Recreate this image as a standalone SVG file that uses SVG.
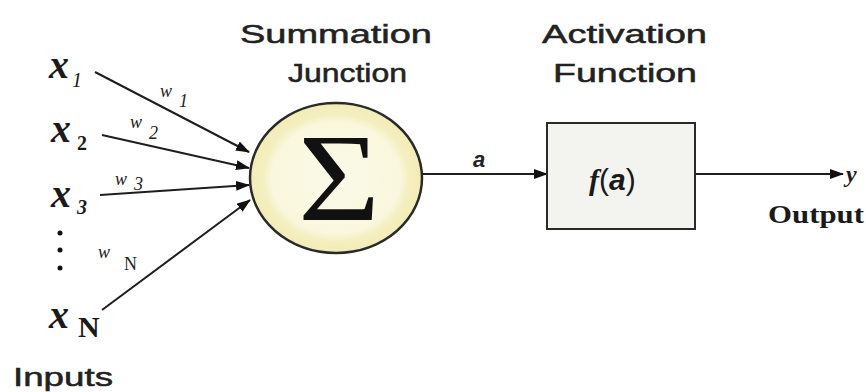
<svg xmlns="http://www.w3.org/2000/svg" width="866" height="392" viewBox="0 0 866 392">
<style>
.title{font-family:"Liberation Sans",Arial,sans-serif;font-size:25px;fill:#222;stroke:#222;stroke-width:0.5px;}
.xv{font-family:"Liberation Serif","Times New Roman",serif;font-style:italic;font-weight:bold;font-size:40px;fill:#1a1a1a;}
.sub{font-family:"Liberation Serif","Times New Roman",serif;font-size:20px;fill:#1a1a1a;}
.w{font-family:"Liberation Serif","Times New Roman",serif;font-style:italic;font-size:18px;fill:#222;}
.conn{stroke:#1e1e1e;stroke-width:2;fill:none;}
</style>
<defs>
<marker id="ah" markerUnits="userSpaceOnUse" markerWidth="14" markerHeight="10" refX="13" refY="5" orient="auto">
<path d="M0,0 L14,5 L0,10 Z" fill="#111"/>
</marker>
<radialGradient id="cg" cx="0.5" cy="0.5" r="0.5">
<stop offset="0" stop-color="#fbfae8"/>
<stop offset="0.75" stop-color="#f9f7dc"/>
<stop offset="0.85" stop-color="#f4efc0"/>
<stop offset="1" stop-color="#f2ecb6"/>
</radialGradient>
</defs>
<rect width="866" height="392" fill="#ffffff"/>

<g id="inputs">
<text class="xv" x="49" y="78">x</text><text class="sub" x="72" y="87" font-style="italic">1</text>
<text class="xv" x="51" y="142">x</text><text class="sub" x="77" y="150" font-weight="bold">2</text>
<text class="xv" x="51" y="207">x</text><text class="sub" x="77" y="214" font-weight="bold" font-style="italic">3</text>
<circle cx="60" cy="233" r="2.5" fill="#111"/>
<circle cx="60" cy="250" r="2.5" fill="#111"/>
<circle cx="60" cy="268" r="2.5" fill="#111"/>
<text class="xv" x="49" y="328">x</text><text x="78" y="337" font-family="Liberation Serif,serif" font-weight="bold" font-size="30" fill="#1a1a1a">N</text>
<text class="title" x="13" y="386" textLength="100" lengthAdjust="spacingAndGlyphs">Inputs</text>
</g>

<g id="weights">
<text class="w" x="160" y="97">w</text><text class="w" x="179" y="107" font-size="17">1</text>
<text class="w" x="130" y="128">w</text><text class="w" x="149" y="139" font-size="17">2</text>
<text class="w" x="115" y="185">w</text><text class="w" x="134" y="190" font-size="17">3</text>
<text class="w" x="98" y="258">w</text><text x="124" y="270" font-family="Liberation Serif,serif" font-size="18" fill="#222">N</text>
</g>

<g id="connectors">
<line class="conn" x1="95" y1="72" x2="249" y2="152" marker-end="url(#ah)"/>
<line class="conn" x1="102" y1="135" x2="249" y2="168" marker-end="url(#ah)"/>
<line class="conn" x1="100" y1="195" x2="249" y2="185" marker-end="url(#ah)"/>
<line class="conn" x1="102" y1="310" x2="250" y2="200" marker-end="url(#ah)"/>
<line class="conn" x1="422" y1="174" x2="547" y2="174" marker-end="url(#ah)"/>
<line class="conn" x1="696" y1="174" x2="843" y2="174" marker-end="url(#ah)"/>
</g>

<g id="summation">
<text class="title" x="240" y="43" textLength="192" lengthAdjust="spacingAndGlyphs">Summation</text>
<text class="title" x="288" y="82" textLength="119" lengthAdjust="spacingAndGlyphs">Junction</text>
<ellipse cx="336" cy="178" rx="86" ry="75" fill="url(#cg)" stroke="#2a2a2a" stroke-width="2.5"/>
<text transform="translate(339,220) scale(1.12,1)" text-anchor="middle" font-family="Liberation Serif,serif" font-size="126" fill="#111">Σ</text>
</g>

<g id="a-label">
<text x="473" y="167" font-family="Liberation Sans,Arial,sans-serif" font-weight="bold" font-style="italic" font-size="22" fill="#222">a</text>
</g>

<g id="activation">
<text class="title" x="542" y="43" textLength="165" lengthAdjust="spacingAndGlyphs">Activation</text>
<text class="title" x="553" y="82" textLength="144" lengthAdjust="spacingAndGlyphs">Function</text>
<rect x="547" y="123" width="148" height="106" fill="#f3f3f0" stroke="#2a2a2a" stroke-width="2"/>
<text x="589" y="190" font-size="30" fill="#1a1a1a"><tspan font-family="Liberation Serif,serif" font-style="italic" font-weight="bold">f</tspan><tspan font-family="Liberation Sans,Arial,sans-serif">(</tspan><tspan font-family="Liberation Sans,Arial,sans-serif" font-weight="bold" font-style="italic">a</tspan><tspan font-family="Liberation Sans,Arial,sans-serif">)</tspan></text>
</g>

<g id="output">
<text x="846" y="182" font-family="Liberation Serif,serif" font-style="italic" font-weight="bold" font-size="24" fill="#1a1a1a">y</text>
<text x="768" y="223" font-family="Liberation Serif,serif" font-weight="bold" font-size="25" fill="#1a1a1a" textLength="96" lengthAdjust="spacingAndGlyphs">Output</text>
</g>
</svg>
